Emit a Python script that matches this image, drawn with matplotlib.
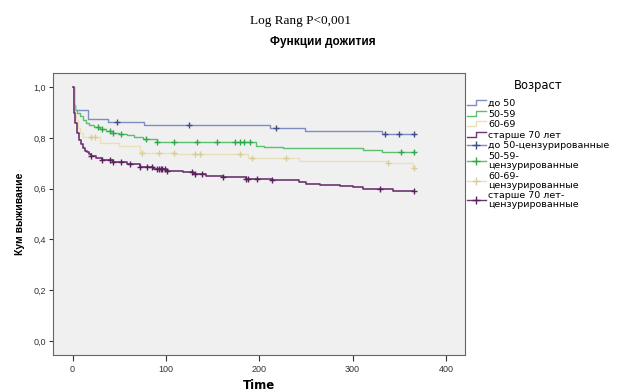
import numpy as np
import matplotlib
matplotlib.use('Agg')
import matplotlib.pyplot as plt
from matplotlib.lines import Line2D
from matplotlib.legend_handler import HandlerBase

plt.rcParams['font.family'] = ['Liberation Sans', 'DejaVu Sans']

# Kaplan-Meier step data
groups = ['до 50', '50-59', '60-69', 'старше 70 лет']

t_do50 = [0, 1, 2, 3, 16, 38, 77, 211, 249, 332, 366]
s_do50 = [1.0, 0.96, 0.93, 0.91, 0.874, 0.863, 0.85, 0.84, 0.828, 0.817, 0.817]
c_do50 = [48, 125, 218, 335, 350, 366]

t_5059 = [0, 1, 2, 3, 5, 8, 11, 14, 18, 23, 29, 36, 43, 50, 58, 66, 75, 90,
          197, 205, 225, 311, 332, 366]
s_5059 = [1.0, 0.96, 0.93, 0.91, 0.9, 0.885, 0.87, 0.86, 0.85, 0.842, 0.834,
          0.826, 0.82, 0.815, 0.81, 0.802, 0.795, 0.783, 0.77, 0.765, 0.759,
          0.752, 0.745, 0.745]
c_5059 = [27, 31, 40, 43, 52, 79, 90, 109, 133, 155, 174, 179, 184, 190, 352, 366]

t_6069 = [0, 1, 2, 4, 6, 8, 11, 29, 50, 72, 110, 188, 243, 338, 365, 366]
s_6069 = [1.0, 0.95, 0.9, 0.87, 0.84, 0.82, 0.804, 0.778, 0.77, 0.74, 0.735,
          0.72, 0.71, 0.70, 0.68, 0.68]
c_6069 = [20, 24, 74, 93, 109, 131, 136, 179, 192, 229, 338, 366]

t_70 = [0, 1, 2, 3, 5, 7, 9, 11, 13, 15, 18, 20, 25, 32, 43, 58, 72, 86, 100,
        118, 129, 143, 161, 186, 214, 243, 250, 265, 286, 300, 311, 343, 366]
s_70 = [1.0, 0.95, 0.9, 0.86, 0.82, 0.79, 0.775, 0.76, 0.75, 0.745, 0.737,
        0.73, 0.72, 0.712, 0.705, 0.697, 0.686, 0.677, 0.67, 0.665, 0.657,
        0.65, 0.647, 0.64, 0.634, 0.628, 0.62, 0.614, 0.61, 0.606, 0.6, 0.592,
        0.592]
c_70 = [20, 32, 40, 43, 52, 61, 72, 80, 85, 90, 93, 95, 96, 99, 101, 128, 131,
        139, 161, 186, 188, 198, 214, 329, 366]

line_colors = ['#7f8ec2', '#5cc070', '#e8e0b8', '#6e3470']
mark_colors = ['#3e4d8a', '#2fa84a', '#d8cc98', '#5a1f5c']
line_widths = [1.0, 1.0, 1.0, 1.2]

series = [(t_do50, s_do50, c_do50), (t_5059, s_5059, c_5059),
          (t_6069, s_6069, c_6069), (t_70, s_70, c_70)]


class StepHandler(HandlerBase):
    # little step glyph like the SPSS legend
    def create_artists(self, legend, orig_handle, xdescent, ydescent,
                       width, height, fontsize, trans):
        x0 = -xdescent
        xm = x0 + 0.5 * width
        ylo = -ydescent + 0.15 * height
        yhi = -ydescent + 0.9 * height
        ln = Line2D([x0, xm, xm, x0 + width], [ylo, ylo, yhi, yhi],
                    color=orig_handle.get_color(),
                    lw=orig_handle.get_linewidth())
        ln.set_transform(trans)
        return [ln]


fig = plt.figure(figsize=(6.18, 3.92), dpi=100)
ax = fig.add_axes([0.0858, 0.0944, 0.666, 0.719])
ax.set_facecolor('#f0f0f0')

for (t, s, c), lc, mc, lw in zip(series, line_colors, mark_colors, line_widths):
    t = np.array(t, float)
    s = np.array(s, float)
    ax.step(t, s, where='post', color=lc, lw=lw)
    idx = np.searchsorted(t, c, side='right') - 1
    ax.plot(c, s[idx], ls='none', marker='+', ms=4.5, mew=1.0, color=mc)

ax.set_xlim(-21, 420)
ax.set_ylim(-0.055, 1.055)
ax.set_xticks([0, 100, 200, 300, 400])
ax.set_yticks([0, 0.2, 0.4, 0.6, 0.8, 1.0])
ax.set_yticklabels(['0,0', '0,2', '0,4', '0,6', '0,8', '1,0'])
ax.tick_params(labelsize=6.5, colors='#333333', length=3, width=0.8, pad=2)
ax.tick_params(axis='x', length=4, pad=3)
for sp in ax.spines.values():
    sp.set_color('#666666')
    sp.set_linewidth(0.8)

ax.set_xlabel('Time', fontsize=8.5, fontweight='bold', labelpad=4,
              family=['DejaVu Sans'])
ax.set_ylabel('Кум выживание', fontsize=7.5, fontweight='bold', labelpad=6)

fig.text(0.486, 0.947, 'Log Rang P<0,001', ha='center', va='center',
         fontsize=9.5, family=['Liberation Serif', 'DejaVu Serif'])
fig.text(0.523, 0.893, 'Функции дожития', ha='center', va='center',
         fontsize=8.5, fontweight='bold')

labels = groups + ['до 50-цензурированные', '50-59-\nцензурированные',
                   '60-69-\nцензурированные', 'старше 70 лет-\nцензурированные']
handles = [Line2D([], [], color=lc, lw=1.0) for lc in line_colors]
handles += [Line2D([], [], color=lc, lw=1.0, marker='+', ms=6, mew=1.0,
                   markeredgecolor=mc) for lc, mc in zip(line_colors, mark_colors)]
leg = fig.legend(handles, labels, loc='upper left',
                 bbox_to_anchor=(0.749, 0.808), frameon=False,
                 prop={'family': 'DejaVu Sans', 'size': 6.8},
                 title='Возраст',
                 title_fontproperties={'family': 'DejaVu Sans', 'size': 8.3},
                 handlelength=2.0, handletextpad=0.3, labelspacing=0.17,
                 borderaxespad=0,
                 handler_map={h: StepHandler() for h in handles[:4]})
for txt in leg.get_texts():
    txt.set_linespacing(1.0)
leg._legend_box.sep = 5

fig.savefig('out.png', dpi=100)
